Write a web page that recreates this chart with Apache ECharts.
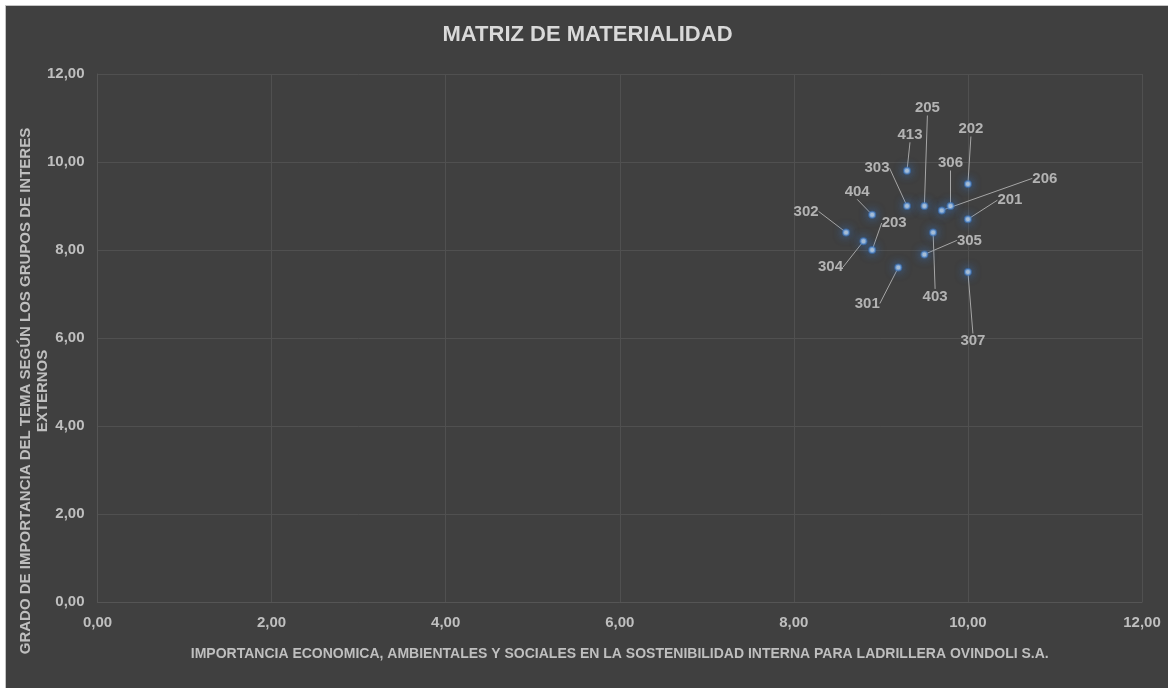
<!DOCTYPE html>
<html>
<head>
<meta charset="utf-8">
<script src="https://cdn.jsdelivr.net/npm/echarts@6/dist/echarts.min.js"></script>
<style>
html,body{margin:0;padding:0;background:#fff;}
#chart{position:absolute;left:5px;top:5px;width:1163px;height:683px;border-top:1px solid #c4c4c4;border-left:1px solid #c4c4c4;background:#404040;}
</style>
</head>
<body>
<div id="chart"></div>
<script>
// temas materiales (codigo GRI)
const codes = ['413','202','303','205','206','306','404','201','302','403','304','203','305','301','307'];
const internalScore = [9.3, 10.0, 9.3, 9.5, 9.7, 9.8, 8.9, 10.0, 8.6, 9.6, 8.8, 8.9, 9.5, 9.2, 10.0];
const externalScore = [9.8, 9.5, 9.0, 9.0, 8.9, 9.0, 8.8, 8.7, 8.4, 8.4, 8.2, 8.0, 7.9, 7.6, 7.5];
const axisTicks = [0, 2, 4, 6, 8, 10, 12];

// desplazamiento de cada etiqueta respecto a su punto (px)
const labelOffsets = {
    '413': [3, -36], '202': [3, -55], '303': [-30, -38], '205': [3, -98],
    '206': [103, -32], '306': [0, -43], '404': [-15, -23], '201': [42, -19],
    '302': [-40, -21], '403': [2, 64], '304': [-33, 26], '203': [22, -27],
    '305': [45, -14], '301': [-31, 36], '307': [5, 69]
};

const FONT = 'Liberation Sans, Arial, sans-serif';
const fmt = v => v.toFixed(2).replace('.', ',');

let chart = echarts.init(document.getElementById('chart'));
let option = {
    backgroundColor: '#404040',
    animation: false,
    title: {
        text: 'MATRIZ DE MATERIALIDAD',
        left: 'center',
        top: 13,
        textStyle: {
            color: '#d9d9d9',
            fontSize: 22,
            fontWeight: 'bold',
            fontFamily: FONT
        }
    },
    grid: {
        left: 91.5,
        top: 68,
        right: 27,
        bottom: 87
    },
    xAxis: {
        type: 'value',
        min: axisTicks[0],
        max: axisTicks[axisTicks.length - 1],
        interval: 2,
        name: 'IMPORTANCIA ECONOMICA, AMBIENTALES Y SOCIALES EN LA SOSTENIBILIDAD INTERNA PARA LADRILLERA OVINDOLI S.A.',
        nameLocation: 'middle',
        nameGap: 45,
        nameTextStyle: {
            color: '#bfbfbf',
            fontSize: 14,
            fontWeight: 'bold',
            fontFamily: FONT
        },
        axisLine: { show: true, lineStyle: { color: '#555555' } },
        axisTick: { show: false },
        splitLine: { show: true, lineStyle: { color: '#505050' } },
        axisLabel: {
            formatter: fmt,
            margin: 13,
            color: '#bfbfbf',
            fontSize: 15,
            fontWeight: 'bold',
            fontFamily: FONT
        }
    },
    yAxis: {
        type: 'value',
        min: axisTicks[0],
        max: axisTicks[axisTicks.length - 1],
        interval: 2,
        axisLine: { show: true, lineStyle: { color: '#555555' } },
        axisTick: { show: false },
        splitLine: { show: true, lineStyle: { color: '#505050' } },
        axisLabel: {
            formatter: fmt,
            margin: 13,
            color: '#bfbfbf',
            fontSize: 15,
            fontWeight: 'bold',
            fontFamily: FONT
        }
    },
    graphic: [{
        type: 'text',
        x: 28,
        y: 385,
        rotation: Math.PI / 2,
        style: {
            text: 'GRADO DE IMPORTANCIA DEL TEMA SEGÚN LOS GRUPOS DE INTERES\nEXTERNOS',
            fill: '#bfbfbf',
            font: 'bold 15px ' + FONT,
            textAlign: 'center',
            textVerticalAlign: 'middle',
            lineHeight: 17
        }
    }],
    series: [{
        type: 'scatter',
        symbolSize: 6,
        data: codes.map((c, i) => ({ name: c, value: [internalScore[i], externalScore[i]] })),
        itemStyle: {
            color: '#d6e6f5',
            borderColor: 'rgba(60,125,205,0.7)',
            borderWidth: 2,
            shadowBlur: 10,
            shadowColor: 'rgba(55,125,215,0.95)'
        },
        label: {
            show: true,
            position: 'inside',
            formatter: p => p.name,
            color: '#d0d0d0',
            fontSize: 15,
            fontWeight: 'bold',
            fontFamily: FONT
        },
        labelLine: {
            show: true,
            lineStyle: { color: '#a6a6a6', width: 1 }
        },
        labelLayout: function (params) {
            let o = labelOffsets[codes[params.dataIndex]];
            return { dx: o[0], dy: o[1] };
        }
    }]
};
chart.setOption(option);
</script>
</body>
</html>
